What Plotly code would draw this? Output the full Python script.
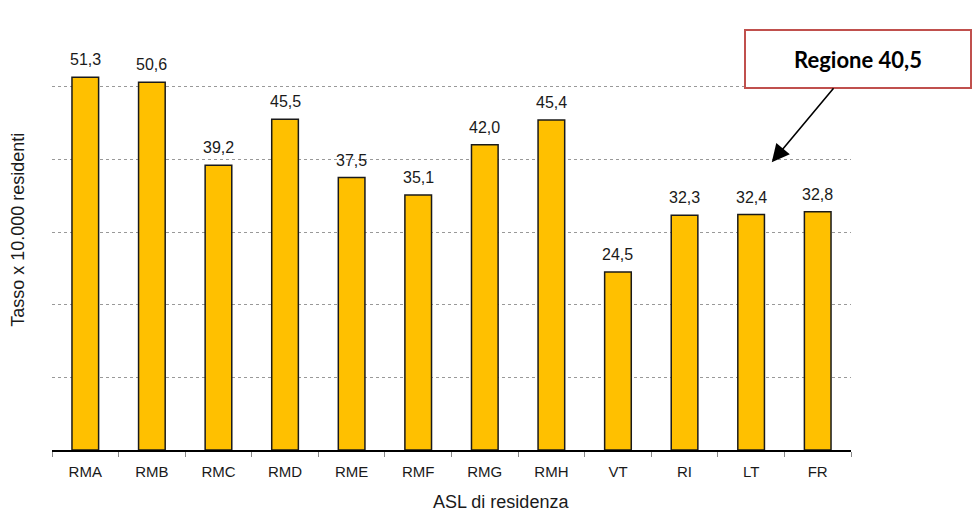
import plotly.graph_objects as go

categories = ["RMA", "RMB", "RMC", "RMD", "RME", "RMF", "RMG", "RMH", "VT", "RI", "LT", "FR"]
values = [51.3, 50.6, 39.2, 45.5, 37.5, 35.1, 42.0, 45.4, 24.5, 32.3, 32.4, 32.8]
labels = [f"{v:.1f}".replace(".", ",") for v in values]
region_label = "Regione 40,5"
x_title = "ASL di residenza"
y_title = "Tasso x 10.000 residenti"

fig = go.Figure()
fig.add_trace(go.Bar(
    x=categories, y=values,
    marker=dict(color="#FFC000", line=dict(color="#1a1a1a", width=1.5)),
    width=0.4,
    hoverinfo="skip",
))

annotations = []
for c, v, t in zip(categories, values, labels):
    annotations.append(dict(
        x=c, y=v, text=t, showarrow=False, xref="x", yref="y",
        yanchor="bottom", yshift=7,
        font=dict(family="Liberation Sans, Arial", size=16, color="#1a1a1a"),
    ))

annotations.append(dict(
    x=10.31, y=39.6, xref="x", yref="y",
    text=f"<b>{region_label}</b>",
    showarrow=True, ax=86, ay=-103, axref="pixel", ayref="pixel",
    arrowhead=2, arrowsize=2.2, arrowwidth=1.6, arrowcolor="#000000",
    bordercolor="#C0504D", borderwidth=2, borderpad=0,
    bgcolor="#FFFFFF", width=224, height=56,
    font=dict(family="Lato, Open Sans", size=22, color="#000000"),
))
annotations.append(dict(
    x=0.562, y=0, xref="paper", yref="paper", yshift=-52,
    text=x_title, showarrow=False, yanchor="middle",
    font=dict(family="Liberation Sans, Arial", size=18, color="#1a1a1a"),
))
annotations.append(dict(
    x=0, y=0.505, xref="paper", yref="paper", xshift=-34,
    text=y_title, showarrow=False, textangle=-90, xanchor="center",
    font=dict(family="Liberation Sans, Arial", size=18, color="#1a1a1a"),
))

fig.update_layout(
    width=973, height=523,
    margin=dict(l=52, r=122, t=14, b=73),
    paper_bgcolor="white", plot_bgcolor="white",
    showlegend=False, bargap=0.6,
    annotations=annotations,
    xaxis=dict(
        type="category", range=[-0.5, len(categories) - 0.5],
        showline=True, linecolor="#000000", linewidth=1.5,
        ticks="outside", tickson="boundaries", ticklen=5, tickcolor="#888888",
        ticklabelstandoff=7,
        tickfont=dict(family="Liberation Sans, Arial", size=15, color="#1a1a1a"),
        showgrid=False,
    ),
    yaxis=dict(
        range=[0, 60], dtick=10, showticklabels=False,
        showgrid=True, gridcolor="#999999", griddash="dot", gridwidth=1,
        zeroline=False, showline=False,
    ),
)

fig.write_html("out.html")
